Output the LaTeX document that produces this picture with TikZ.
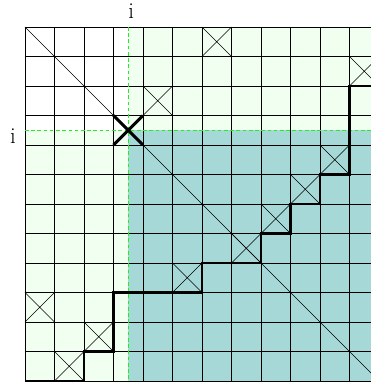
\documentclass[tikz,border=0pt]{standalone}
\definecolor{lightgreen}{HTML}{F1FFF1}
\definecolor{tealfill}{HTML}{A5D8D6}
\definecolor{dashgreen}{HTML}{22EE22}
\begin{document}
\begin{tikzpicture}[x=1cm,y=1cm,
  gridline/.style={black, line width=0.6pt},
  guide/.style={dashgreen, dash pattern=on 3.5pt off 2.5pt, line width=0.8pt},
  thinline/.style={black, line width=0.6pt},
  bigcross/.style={black, line width=2.8pt},
  stairs/.style={black, line width=2.8pt, line join=miter},
  lbl/.style={font=\fontsize{22}{24}\selectfont, inner sep=0pt}]
\useasboundingbox (-0.847,0.915) rectangle (11.729,-12.17);
\clip (-0.847,0.915) rectangle (11.729,-12.17);
% fills
\fill[lightgreen] (0,0) rectangle (12,-12);
\fill[white] (0,0) rectangle (3.5,-3.5);
\fill[tealfill] (3.5,-3.5) rectangle (12,-12);
% grid
\draw[gridline] (0,0) grid (12,-12);
% guides
\coordinate (vt) at (3.5,0);
\coordinate (vb) at (3.5,-12);
\coordinate (hl) at (0,-3.5);
\coordinate (hr) at (12,-3.5);
\draw[guide] (vt) -- (vb);
\draw[guide] (hl) -- (hr);
% diagonal
\coordinate (dtl) at (0,0);
\coordinate (dbr) at (12,-12);
\draw[thinline] (dtl) -- (dbr);
% crosses in cells (row/col)
\foreach \r/\c in {0/6, 1/11, 2/4, 4/10, 5/9, 6/8, 7/7, 8/5, 9/0, 10/2, 11/1}{
  \draw[thinline] (\c,-\r) -- ++(1,-1) (\c+1,-\r) -- ++(-1,-1);
}
% big cross
\draw[bigcross] (3,-3) -- (4,-4) (4,-3) -- (3,-4);
% staircase
\draw[stairs] (0,-12) -- (2,-12) -- (2,-11) -- (3,-11) -- (3,-9) -- (6,-9) -- (6,-8)
  -- (8,-8) -- (8,-7) -- (9,-7) -- (9,-6) -- (10,-6) -- (10,-5) -- (11,-5)
  -- (11,-2) -- (12.2,-2);
% labels
\node[lbl] (topi) at (3.6,0.54) {i};
\node[lbl] (lefti) at (-0.41,-3.69) {i};
\end{tikzpicture}
\end{document}
